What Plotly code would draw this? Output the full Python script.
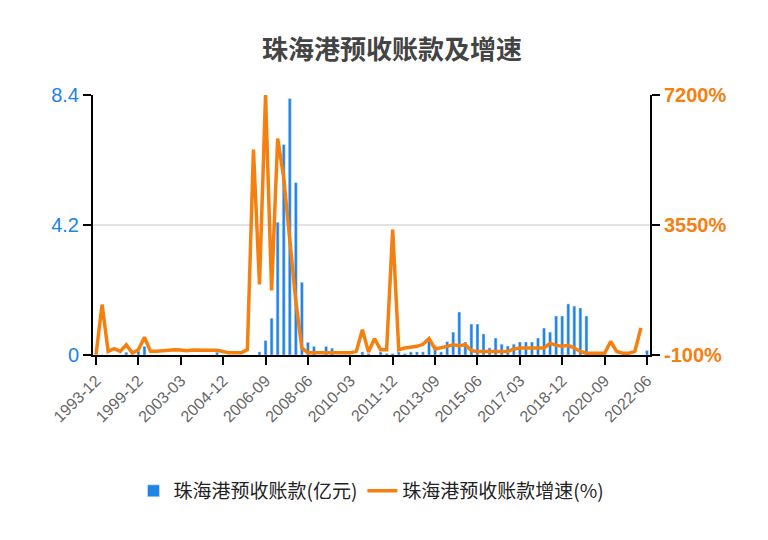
import plotly.graph_objects as go

# categories: annual, then semi-annual, then quarterly
dates = ['1993-12', '1994-12', '1995-12', '1996-06', '1996-12', '1997-12', '1998-12', '1999-12',
         '2000-06', '2000-12', '2001-06', '2001-12', '2002-06', '2002-12', '2003-03']
for y in range(2003, 2023):
    for m in ['03', '06', '09', '12']:
        d = f'{y}-{m}'
        if d > '2003-03' and d <= '2022-06':
            dates.append(d)

receipts = [0, 0, 0, 0, 0, 0.09, 0, 0.12, 0.28, 0, 0, 0, 0, 0, 0,
            0, 0, 0, 0, 0, 0.09, 0, 0, 0, 0, 0, 0, 0.1, 0.47, 1.19,
            4.29, 6.8, 8.29, 5.57, 2.35, 0.41, 0.28, 0, 0.28, 0.22, 0, 0, 0, 0, 0.1,
            0.05, 0, 0.1, 0.05, 0.05, 0.1, 0.05, 0.1, 0.1, 0.1, 0.48, 0.3, 0.1, 0.43, 0.74,
            1.39, 0.42, 1.0, 1.0, 0.68, 0.23, 0.55, 0.35, 0.29, 0.35, 0.42, 0.42, 0.42, 0.55, 0.87,
            0.74, 1.26, 1.26, 1.65, 1.58, 1.52, 1.26, 0, 0, 0.1, 0, 0, 0, 0, 0, 0, 0.15]

growth = [-90, 1315, 3, 78, 3, 190, -44, 50, 397, 3, 3, 20, 30, 50, 40,
          20, 40, 30, 40, 30, 30, 3, -40, -40, -40, 50, 5670, 1880, 7200, 1710,
          5980, 4880, 3190, 1410, 97, -40, -40, -40, -40, -40, -40, -40, -40, 3, 612,
          -15, 360, 50, 50, 3420, 50, 97, 115, 143, 200, 360, 70, 97, 143, 190,
          160, 190, 22, 0, 0, 0, 0, 0, 0, 70, 97, 97, 97, 97, 97,
          230, 170, 143, 170, 97, 0, -50, -50, -50, -50, 280, 0, -50, -50, 0, 660]

tick_labels = dates[::7]

fig = go.Figure()
fig.add_trace(go.Bar(x=dates, y=receipts, name='珠海港预收账款(亿元)',
                     marker=dict(color='#2083e6')))
fig.add_trace(go.Scatter(x=dates, y=growth, name='珠海港预收账款增速(%)', yaxis='y2',
                         mode='lines', line=dict(color='#f5800f', width=3.5)))

fig.update_layout(
    width=768, height=540, plot_bgcolor='white', paper_bgcolor='white',
    font=dict(family='Liberation Sans, Noto Sans CJK SC, sans-serif'),
    title=dict(text='<b>珠海港预收账款及增速</b>', x=0.5, y=0.94, xanchor='center',
               font=dict(size=26, color='#444444', family='Noto Sans CJK SC')),
    margin=dict(l=85, r=126, t=87, b=193, autoexpand=False),
    bargap=0.5, showlegend=True,
    legend=dict(orientation='h', x=0.5, xanchor='center', y=-0.45, yanchor='top',
                font=dict(size=19, color='#222222', family='Noto Sans CJK SC')),
    xaxis=dict(type='category', tickvals=tick_labels, ticktext=tick_labels, tickangle=-45,
               automargin=False,
               showline=True, linecolor='black', linewidth=2, ticks='outside', ticklen=8,
               tickcolor='black', tickwidth=2, tickfont=dict(size=16, color='#666666'),
               showgrid=False),
    yaxis=dict(range=[0, 8.4], tickvals=[0, 4.2, 8.4], ticktext=['0', '4.2', '8.4'],
               automargin=False,
               showline=True, linecolor='black', linewidth=2, ticks='outside', ticklen=8,
               tickcolor='black', tickwidth=2, tickfont=dict(size=20, color='#2083e6'),
               gridcolor='#e3e3e3', gridwidth=2, zeroline=False),
    yaxis2=dict(range=[-100, 7200], tickvals=[-100, 3550, 7200],
                ticktext=['<b>-100%</b>', '<b>3550%</b>', '<b>7200%</b>'],
                automargin=False,
                overlaying='y', side='right', showline=True, linecolor='black', linewidth=2,
                ticks='outside', ticklen=8, tickcolor='black', tickwidth=2,
                tickfont=dict(size=20, color='#f5800f'), showgrid=False, zeroline=False),
)

fig.write_html("out.html")
